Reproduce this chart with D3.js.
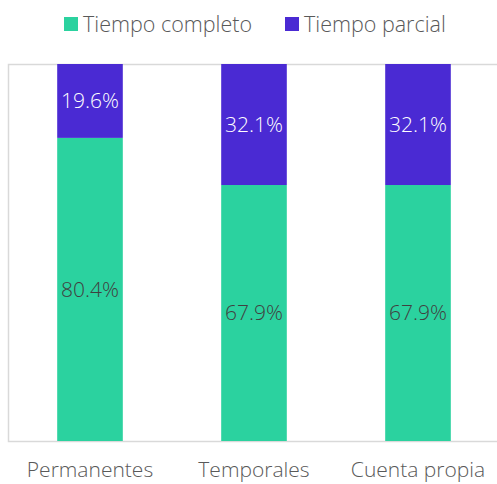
<!DOCTYPE html>
<html>
<head>
<meta charset="utf-8">
<script src="https://cdn.jsdelivr.net/npm/d3@7"></script>
<style>
  body { margin: 0; background: #fff; }
  text { font-family: "Open Sans", sans-serif; font-weight: 300; }
</style>
</head>
<body>
<div id="chart"></div>
<script>
var categories = ["Permanentes", "Temporales", "Cuenta propia"];
var seriesNames = ["Tiempo completo", "Tiempo parcial"];
var completo = [80.4, 67.9, 67.9];
var parcial = [19.6, 32.1, 32.1];
var colors = ["#2BD29F", "#4A2AD3"];

var width = 497, height = 484;
var margin = {top: 64, right: -3, bottom: 43, left: 8};
var innerW = width - margin.left - margin.right,
    innerH = height - margin.top - margin.bottom;

var svg = d3.select("#chart").append("svg")
    .attr("width", width)
    .attr("height", height);

var g = svg.append("g")
    .attr("transform", "translate(" + margin.left + "," + margin.top + ")");

var x = d3.scaleBand().domain(categories).range([0, innerW]).paddingInner(0.6).paddingOuter(0.3);
var y = d3.scaleLinear().domain([0, 100]).range([innerH, 0]);

// plot area border
g.append("rect")
    .attr("x", 0.5).attr("y", 0.5)
    .attr("width", innerW).attr("height", innerH)
    .attr("fill", "none")
    .attr("stroke", "#d9d9d9")
    .attr("stroke-width", 1.5);

var data = categories.map(function(c, i) {
  return {cat: c, completo: completo[i], parcial: parcial[i]};
});
var stacked = d3.stack().keys(["completo", "parcial"])(data);

var layers = g.selectAll(".layer")
    .data(stacked)
    .enter().append("g")
    .attr("fill", function(d, i) { return colors[i]; });

layers.selectAll("rect")
    .data(function(d) { return d; })
    .enter().append("rect")
    .attr("x", function(d) { return x(d.data.cat); })
    .attr("width", x.bandwidth())
    .attr("y", function(d) { return y(d[1]); })
    .attr("height", function(d) { return y(d[0]) - y(d[1]); });

// data labels
stacked.forEach(function(layer, li) {
  g.append("g").selectAll("text")
    .data(layer)
    .enter().append("text")
    .attr("x", function(d) { return x(d.data.cat) + x.bandwidth() / 2; })
    .attr("y", function(d) { return (y(d[0]) + y(d[1])) / 2; })
    .attr("dy", "0.35em")
    .attr("text-anchor", "middle")
    .attr("font-size", 21)
    .attr("fill", li == 0 ? "#404040" : "#ffffff")
    .text(function(d) { return (d[1] - d[0]).toFixed(1) + "%"; });
});

// x axis labels
var xAxis = g.append("g")
    .attr("transform", "translate(0," + innerH + ")")
    .call(d3.axisBottom(x).tickSize(0).tickPadding(21));
xAxis.select(".domain").remove();
xAxis.selectAll("text")
    .attr("font-size", 21)
    .attr("font-family", "Open Sans")
    .attr("fill", "#595959");

// legend
var legendX = [64, 285];
var legend = svg.append("g").selectAll("g")
    .data(seriesNames)
    .enter().append("g")
    .attr("transform", function(d, i) { return "translate(" + legendX[i] + ",17)"; });
legend.append("rect")
    .attr("width", 14).attr("height", 14)
    .attr("fill", function(d, i) { return colors[i]; });
legend.append("text")
    .attr("x", 19).attr("y", 7)
    .attr("dy", "0.35em")
    .attr("font-size", 21.5)
    .attr("fill", "#595959")
    .text(function(d) { return d; });
</script>
</body>
</html>
